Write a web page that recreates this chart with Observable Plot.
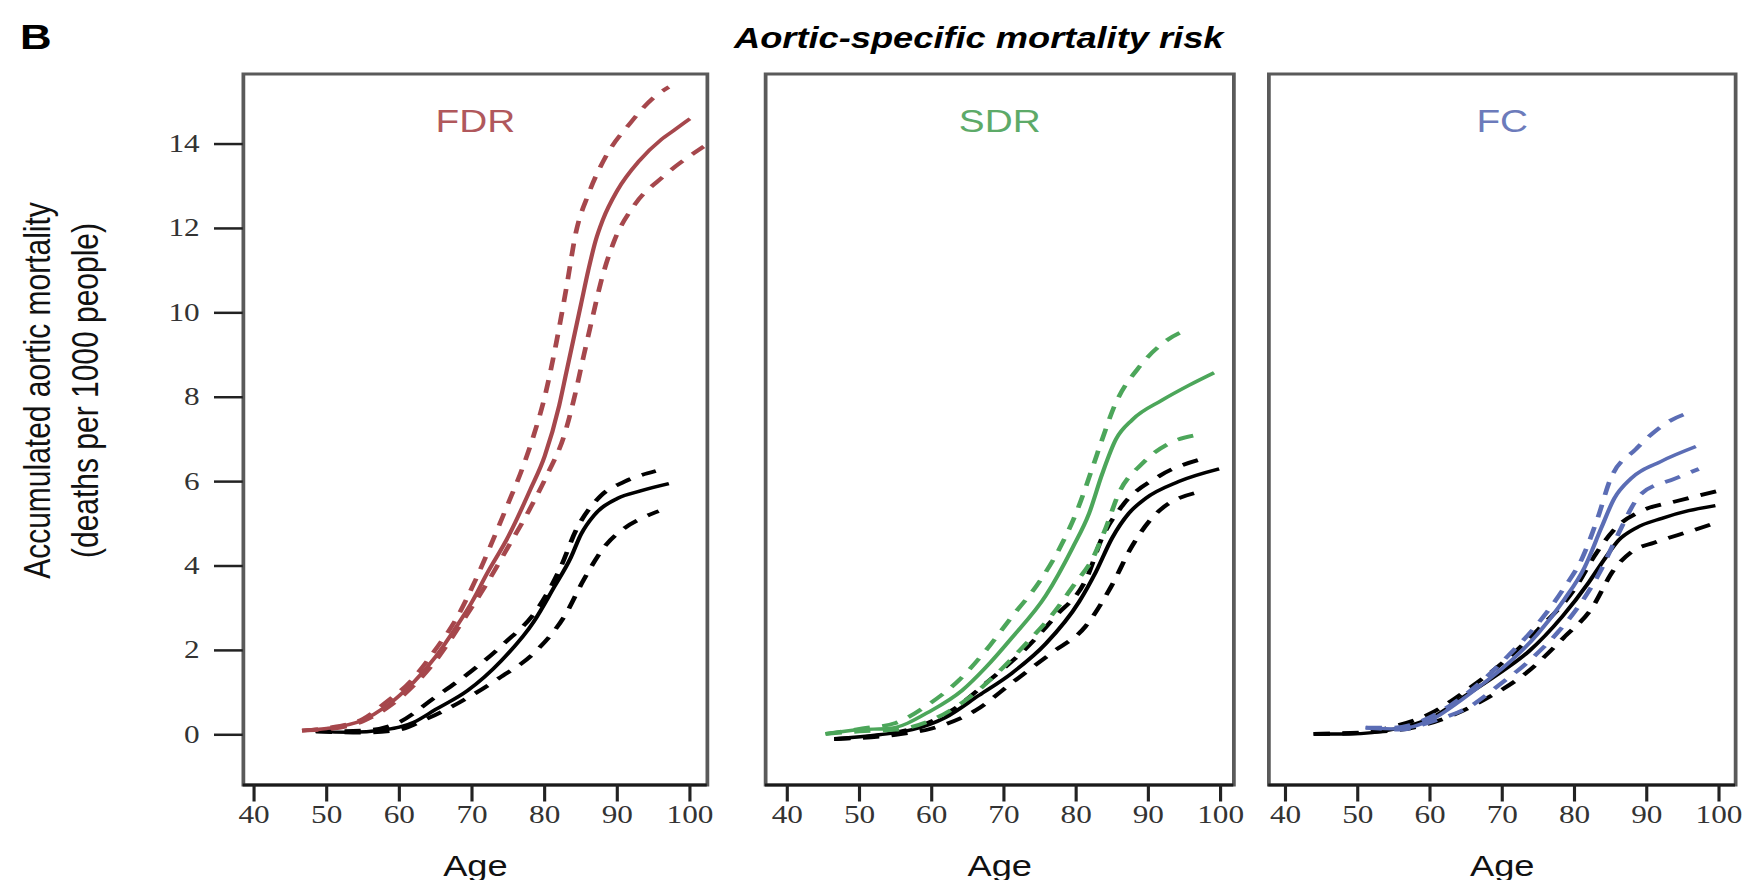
<!DOCTYPE html>
<html>
<head>
<meta charset="utf-8">
<script src="https://cdn.jsdelivr.net/npm/d3@7"></script>
<script src="https://cdn.jsdelivr.net/npm/@observablehq/plot@0.6"></script>
<style>
  html, body { margin: 0; padding: 0; background: #fff; overflow: hidden; }
  #wrap { position: relative; width: 1397px; height: 880px; transform: scaleX(1.25); transform-origin: 0 0; }
  .panel { position: absolute; top: 0; }
  #tag { position: absolute; left: 16px; top: 19px; font: bold 35px "Liberation Sans", Arial, sans-serif; line-height: 1; color: #000; }
  #title { position: absolute; left: 383px; width: 800px; top: 24px; text-align: center; font: italic bold 29px "Liberation Sans", Arial, sans-serif; line-height: 1; color: #000; }
</style>
</head>
<body>
<div id="wrap">
  <div id="tag">B</div>
  <div id="title">Aortic-specific mortality risk</div>
</div>
<script>
// ---------- tick labels / categories ----------
const xTicks = [40, 50, 60, 70, 80, 90, 100];
const yTicks = [0, 2, 4, 6, 8, 10, 12, 14];
const groupNames = ["FDR", "SDR", "FC"];
const groupColors = ["#a6474c", "#4ca65a", "#5b6db5"];
const labelColors = ["#b0585c", "#5daa68", "#6c7bbb"];
const yLabelLines = ["Accumulated aortic mortality", "(deaths per 1000 people)"];
const xLabel = "Age";

// ---------- FDR panel ----------
const fdrMidAge = [46.6,50,55,58,60,62,65,68,70,72,75,78,80,82,83,84,85,86,87,88,90,93,96,98,100];
const fdrMidVal = [0.10,0.15,0.35,0.65,0.93,1.25,1.85,2.6,3.15,3.8,4.7,5.8,6.6,7.8,8.6,9.4,10.2,11.0,11.7,12.2,12.9,13.6,14.1,14.35,14.6];
const fdrUpAge = [46.6,50,55,58,61.6,64.8,68,70.3,72.6,74.9,76.9,78.5,80,81.5,83,84.3,86,88.4,91.8,95,97.1];
const fdrUpVal = [0.10,0.16,0.38,0.75,1.28,1.98,2.8,3.6,4.5,5.45,6.3,7.1,8.0,9.2,10.6,11.9,12.8,13.7,14.5,15.1,15.35];
const fdrLoAge = [46.6,50,55,58,62,65.2,68.9,72.1,74.9,77.8,80.4,82.7,84,85.4,86.6,87.7,89.5,92.3,96.4,101.9];
const fdrLoVal = [0.10,0.13,0.32,0.6,1.17,1.8,2.74,3.6,4.43,5.3,6.18,7.1,7.93,9.0,9.9,10.7,11.67,12.54,13.24,13.94];
const fdrRefMidAge = [48.5,53,58,60,62,65,69.4,74,78.5,81.3,83.6,85,86.8,90,93.2,97.1];
const fdrRefMidVal = [0.08,0.06,0.12,0.18,0.3,0.6,1.05,1.75,2.68,3.5,4.2,4.75,5.2,5.6,5.78,5.95];
const fdrRefUpAge = [48.5,55,60,64.8,70,74.4,79.2,82.2,84.3,87.7,91,95.3];
const fdrRefUpVal = [0.08,0.1,0.3,0.875,1.52,2.16,3.03,3.97,4.84,5.66,6.0,6.25];
const fdrRefLoAge = [48.5,55,60,63.4,68.2,73.7,78.8,82.9,85.4,88.4,91,94.1,95.7];
const fdrRefLoVal = [0.08,0.05,0.12,0.35,0.76,1.34,1.98,2.86,3.68,4.49,4.9,5.19,5.3];

// ---------- SDR panel ----------
const sdrMidAge = [45.3,49.9,54.1,60,64.2,67.5,71.1,75.8,79.5,81.8,83.6,85.5,87.8,91.9,95.6,99.1];
const sdrMidVal = [0.02,0.12,0.15,0.58,1.05,1.6,2.3,3.3,4.43,5.25,6.18,7.0,7.47,7.93,8.28,8.58];
const sdrUpAge = [45.3,50.4,55,59.2,63.8,67.5,71.1,74.8,77.8,80.1,82.2,83.6,85.2,88.9,92.4,95.6];
const sdrUpVal = [0.02,0.15,0.28,0.68,1.3,2.0,2.8,3.6,4.45,5.3,6.3,7.0,7.75,8.75,9.33,9.62];
const sdrLoAge = [45.3,50,55,60,64.7,69.8,73,76.7,79.9,82.2,84.1,85.9,89.1,93.3,96.5];
const sdrLoVal = [0.02,0.08,0.12,0.35,0.82,1.58,2.15,2.85,3.6,4.15,4.9,5.72,6.42,6.94,7.1];
const sdrRefMidAge = [46.5,52.7,57.3,61.9,66.5,71.1,75.8,80.4,82.7,85,87.3,89.6,94.2,99.8];
const sdrRefMidVal = [-0.1,0.0,0.12,0.41,0.93,1.46,2.16,3.15,3.85,4.67,5.25,5.6,6.0,6.3];
const sdrRefUpAge = [46.5,55,62.8,67.9,73,77.1,81.5,83.6,86.4,91.5,97.9];
const sdrRefUpVal = [-0.1,0.05,0.58,1.28,2.04,2.8,3.73,4.67,5.43,6.13,6.56];
const sdrRefLoAge = [46.5,55,60,66.1,71.1,76.5,81.3,84.8,87.8,91.5,97.7];
const sdrRefLoVal = [-0.1,0.0,0.15,0.58,1.23,1.93,2.57,3.5,4.49,5.31,5.78];

// ---------- FC panel ----------
const fcMidAge = [51.1,55.7,60.1,64.3,67.5,71.2,74.9,78.6,81.4,83.7,85.5,87.8,92,96.8];
const fcMidVal = [0.17,0.14,0.35,0.82,1.23,1.75,2.39,3.21,3.97,4.9,5.6,6.07,6.48,6.83];
const fcUpAge = [51.1,55,60,63,66.7,70.8,74.9,78.4,81.1,83.2,85,88.5,92.9,95.9];
const fcUpVal = [0.17,0.17,0.42,0.72,1.2,1.87,2.63,3.44,4.2,5.13,6.07,6.77,7.41,7.64];
const fcLoAge = [51.1,56,60,65.8,69.5,73.7,77.8,81,83.5,85.8,89.3,93.9,97.2];
const fcLoVal = [0.17,0.12,0.3,0.7,1.17,1.75,2.45,3.15,3.85,4.67,5.72,6.07,6.3];
const fcRefMidAge = [43.9,48.8,55.2,60.3,64.5,69.1,73.7,78.3,82,84.3,86.1,88.5,92.1,95.8,99.5];
const fcRefMidVal = [0.02,0.02,0.14,0.41,0.88,1.4,1.98,2.8,3.62,4.2,4.61,4.9,5.13,5.31,5.43];
const fcRefUpAge = [43.9,50,55,60,65,70,75,80,83,86,89.2,94.2,100.4];
const fcRefUpVal = [0.02,0.04,0.2,0.5,1.05,1.7,2.5,3.45,4.3,4.95,5.3,5.54,5.8];
const fcRefLoAge = [43.9,55,62.2,67.7,73.2,78.5,82.4,85.4,88,91,96.3,99.5];
const fcRefLoVal = [0.02,0.1,0.4,0.85,1.45,2.3,3.0,3.9,4.35,4.55,4.84,5.02];

// ---------- build ----------
const zip = (ages, vals) => ages.map((a, i) => ({age: a, value: vals[i]}));
const yDomain = [-1.19, 15.66];
const sansFont = '"Liberation Sans", Arial, Helvetica, sans-serif';
const serifFont = '"Liberation Serif", "Times New Roman", serif';

const panels = [
  {left: 0, width: 580, mL: 194.2, mR: 14.6, xd: [38.53, 102.4], yAxis: true,
   group: [zip(fdrMidAge, fdrMidVal), zip(fdrUpAge, fdrUpVal), zip(fdrLoAge, fdrLoVal)],
   ref: [zip(fdrRefMidAge, fdrRefMidVal), zip(fdrRefUpAge, fdrRefUpVal), zip(fdrRefLoAge, fdrRefLoVal)]},
  {left: 580, width: 420, mL: 32, mR: 13.4, xd: [37.0, 101.84], yAxis: false,
   group: [zip(sdrMidAge, sdrMidVal), zip(sdrUpAge, sdrUpVal), zip(sdrLoAge, sdrLoVal)],
   ref: [zip(sdrRefMidAge, sdrRefMidVal), zip(sdrRefUpAge, sdrRefUpVal), zip(sdrRefLoAge, sdrRefLoVal)]},
  {left: 1000, width: 397, mL: 14.6, mR: 9, xd: [37.7, 102.3], yAxis: false,
   group: [zip(fcMidAge, fcMidVal), zip(fcUpAge, fcUpVal), zip(fcLoAge, fcLoVal)],
   ref: [zip(fcRefMidAge, fcRefMidVal), zip(fcRefUpAge, fcRefUpVal), zip(fcRefLoAge, fcRefLoVal)]}
];

const wrap = document.getElementById("wrap");

panels.forEach((p, k) => {
  const lineOpts = (color, dashed) => {
    const o = {x: "age", y: "value", stroke: color, strokeWidth: dashed ? 3.8 : 3.4, curve: "monotone-x", strokeLinecap: "butt"};
    if (dashed) o.strokeDasharray = "13,10";
    return o;
  };
  const marks = [
    Plot.frame({stroke: "#5a5a5a", strokeWidth: 3}),
    Plot.ruleY([yDomain[0]], {stroke: "#1a1a1a", strokeWidth: 3}),
    Plot.axisX({ticks: xTicks, tickSize: 17, tickPadding: 3.5, stroke: "#222", strokeWidth: 2.5, fontSize: 25, label: null}),
  ];
  if (p.yAxis) {
    marks.push(Plot.axisY({ticks: yTicks, tickSize: 23, tickPadding: 12, stroke: "#222", strokeWidth: 2.5, fontSize: 25, label: null}));
    marks.push(Plot.text([yLabelLines[0]], {frameAnchor: "left", dx: -164.6, dy: -39, rotate: -90, text: d => d,
      textAnchor: "middle", fontSize: 30, fontFamily: sansFont, fill: "#111", lineAnchor: "middle"}));
    marks.push(Plot.text([yLabelLines[1]], {frameAnchor: "left", dx: -126.2, dy: -39, rotate: -90, text: d => d,
      textAnchor: "middle", fontSize: 30, fontFamily: sansFont, fill: "#111", lineAnchor: "middle"}));
  }
  // reference (black) curves
  marks.push(Plot.line(p.ref[1], lineOpts("#000", true)));
  marks.push(Plot.line(p.ref[2], lineOpts("#000", true)));
  marks.push(Plot.line(p.ref[0], lineOpts("#000", false)));
  // group curves
  marks.push(Plot.line(p.group[1], lineOpts(groupColors[k], true)));
  marks.push(Plot.line(p.group[2], lineOpts(groupColors[k], true)));
  marks.push(Plot.line(p.group[0], lineOpts(groupColors[k], false)));
  // panel label and x label
  marks.push(Plot.text([groupNames[k]], {frameAnchor: "top", dy: 48, text: d => d, fontSize: 31,
    fontFamily: sansFont, fill: labelColors[k], lineAnchor: "middle"}));
  marks.push(Plot.text([xLabel], {frameAnchor: "bottom", dy: 81.5, text: d => d, fontSize: 29,
    fontFamily: sansFont, fill: "#111", lineAnchor: "middle"}));

  const chart = Plot.plot({
    width: p.width,
    height: 880,
    marginLeft: p.mL,
    marginRight: p.mR,
    marginTop: 73.5,
    marginBottom: 95.5,
    x: {domain: p.xd, label: null},
    y: {domain: yDomain, label: null, axis: p.yAxis ? undefined : null},
    style: {fontFamily: serifFont, fontSize: "25px", color: "#333", background: "transparent", overflow: "visible"},
    marks
  });
  chart.classList.add("panel");
  chart.style.left = p.left + "px";
  wrap.appendChild(chart);
});
</script>
</body>
</html>
